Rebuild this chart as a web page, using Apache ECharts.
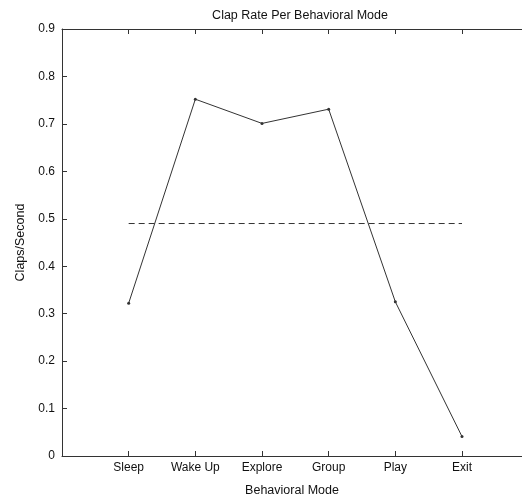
<!DOCTYPE html>
<html>
<head>
<meta charset="utf-8">
<script src="https://cdn.jsdelivr.net/npm/echarts@6/dist/echarts.min.js"></script>
<style>
  html, body { margin: 0; padding: 0; background: #fff; }
  #chart { width: 522px; height: 498px; }
</style>
</head>
<body>
<div id="chart"></div>
<script>
var categories = ['Sleep', 'Wake Up', 'Explore', 'Group', 'Play', 'Exit'];
var clapRate = [0.322, 0.752, 0.701, 0.731, 0.325, 0.041];
var averageRate = [0.49, 0.49, 0.49, 0.49, 0.49, 0.49];
var yTicks = [0, 0.1, 0.2, 0.3, 0.4, 0.5, 0.6, 0.7, 0.8, 0.9];

var chart = echarts.init(document.getElementById('chart'));

// category i is drawn at x = i + 1; the original plot is cut off by the page edge just before x = 7
function toPoints(arr) {
    return arr.map(function (v, i) { return [i + 1, v]; });
}

var font = 'Liberation Sans, Arial, sans-serif';
var ink = '#333';
var xMax = 6.9;

var option = {
    backgroundColor: '#fff',
    animation: false,
    title: {
        text: 'Clap Rate Per Behavioral Mode',
        left: 295,
        textAlign: 'center',
        top: 4,
        textStyle: { fontFamily: font, fontSize: 12.5, fontWeight: 'normal', color: '#111' }
    },
    grid: { left: 62, top: 29, right: 0, bottom: 42, outerBoundsMode: 'none' },
    xAxis: [
        {
            type: 'value',
            min: 0,
            max: xMax,
            interval: 1,
            name: 'Behavioral Mode',
            nameLocation: 'middle',
            nameGap: 28,
            nameTextStyle: { fontFamily: font, fontSize: 12.5, color: '#111' },
            axisLine: { show: true, lineStyle: { color: ink, width: 1 } },
            axisTick: { show: true, inside: true, length: 5, lineStyle: { color: ink } },
            axisLabel: {
                fontFamily: font, fontSize: 12, color: '#111', margin: 6,
                showMaxLabel: false,
                formatter: function (v) { return categories[v - 1] || ''; }
            },
            splitLine: { show: false }
        },
        {
            type: 'value',
            position: 'top',
            min: 0,
            max: xMax,
            interval: 1,
            axisLine: { show: true, lineStyle: { color: ink, width: 1 } },
            axisTick: { show: true, inside: true, length: 5, lineStyle: { color: ink } },
            axisLabel: { show: false },
            splitLine: { show: false }
        }
    ],
    yAxis: {
        type: 'value',
        min: yTicks[0],
        max: yTicks[yTicks.length - 1],
        interval: 0.1,
        name: 'Claps/Second',
        nameLocation: 'middle',
        nameGap: 35,
        nameTextStyle: { fontFamily: font, fontSize: 12.5, color: '#111' },
        axisLine: { show: true, lineStyle: { color: ink, width: 1 } },
        axisTick: { show: true, inside: true, length: 5, lineStyle: { color: ink } },
        axisLabel: { fontFamily: font, fontSize: 12, color: '#111', margin: 7 },
        splitLine: { show: false }
    },
    series: [
        {
            name: 'Clap Rate',
            type: 'line',
            data: toPoints(clapRate),
            symbol: 'circle',
            symbolSize: 3,
            itemStyle: { color: ink },
            lineStyle: { color: ink, width: 1 }
        },
        {
            name: 'Average',
            type: 'line',
            data: toPoints(averageRate),
            symbol: 'none',
            lineStyle: { color: ink, width: 1, type: [6, 4] }
        }
    ]
};
chart.setOption(option);
</script>
</body>
</html>
